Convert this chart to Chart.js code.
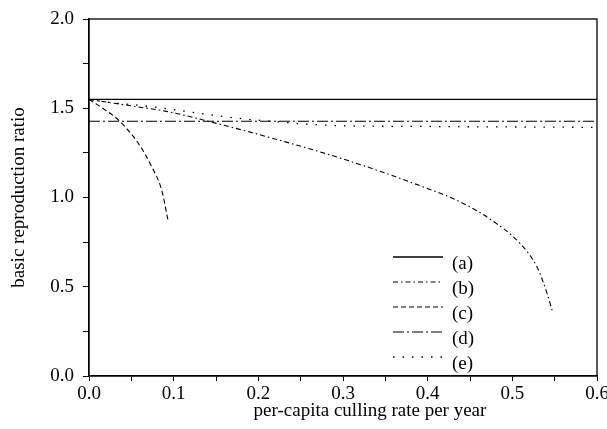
<!DOCTYPE html>
<html>
<head>
<meta charset="utf-8">
<script src="https://cdn.jsdelivr.net/npm/chart.js@4/dist/chart.umd.min.js"></script>
<style>
  html, body { margin: 0; padding: 0; background: #fff; }
  #c { display: block; }
</style>
</head>
<body>
<canvas id="c" width="607" height="429"></canvas>
<script>
// ---- data ----
const seriesLabels = ['(a)', '(b)', '(c)', '(d)', '(e)'];

const xA = [0, 0.6];
const yA = [1.55, 1.55];

const xB = [0, 0.03, 0.06, 0.09, 0.141, 0.231, 0.304, 0.383, 0.442, 0.481, 0.509, 0.529, 0.541, 0.548];
const yB = [1.55, 1.528, 1.506, 1.484, 1.427, 1.313, 1.21, 1.08, 0.967, 0.855, 0.743, 0.612, 0.463, 0.351];

const xC = [0, 0.017, 0.0346, 0.0582, 0.074, 0.0858, 0.0937];
const yC = [1.55, 1.497, 1.435, 1.304, 1.173, 1.042, 0.864];

const xD = [0, 0.6];
const yD = [1.427, 1.427];

const xE = [0, 0.02, 0.062, 0.109, 0.153, 0.184, 0.216, 0.26, 0.3, 0.4, 0.5, 0.6];
const yE = [1.55, 1.535, 1.515, 1.486, 1.457, 1.44, 1.427, 1.41, 1.402, 1.398, 1.395, 1.393];

const xTickLabels = ['0.0', '0.1', '0.2', '0.3', '0.4', '0.5', '0.6'];
const yTickLabels = ['0.0', '0.5', '1.0', '1.5', '2.0'];

const xTitle = 'per-capita culling rate per year';
const yTitle = 'basic reproduction ratio';

// ---- build ----
function pts(xs, ys) { return xs.map((x, i) => ({ x: x, y: ys[i] })); }

const FONT = 'Liberation Serif';
const dashes = [[], [5, 3, 1.5, 3], [5, 3], [11, 3, 2, 3], [1.5, 8]];
const widths = [1.4, 1.1, 1.1, 1.1, 1.3];
const seriesData = [pts(xA, yA), pts(xB, yB), pts(xC, yC), pts(xD, yD), pts(xE, yE)];

const datasets = seriesData.map((d, i) => ({
  label: seriesLabels[i],
  data: d,
  showLine: true,
  borderColor: '#000',
  backgroundColor: '#000',
  borderWidth: widths[i],
  borderDash: dashes[i],
  pointRadius: 0,
  cubicInterpolationMode: 'monotone',
  fill: false
}));

function isMultiple(v, step) {
  const r = v / step;
  return Math.abs(r - Math.round(r)) < 1e-6;
}

const framePlugin = {
  id: 'frame',
  beforeDraw(chart) {
    const ctx = chart.ctx;
    ctx.save();
    ctx.fillStyle = '#fff';
    ctx.fillRect(0, 0, chart.width, chart.height);
    ctx.restore();
  },
  afterDraw(chart) {
    const ctx = chart.ctx;
    const a = chart.chartArea;
    ctx.save();
    ctx.strokeStyle = '#000';
    ctx.lineWidth = 1.3;
    ctx.strokeRect(a.left, a.top, a.right - a.left, a.bottom - a.top);

    // axis titles
    ctx.fillStyle = '#000';
    ctx.font = '19px "' + FONT + '"';
    ctx.textAlign = 'center';
    ctx.textBaseline = 'middle';
    const xs = chart.scales.x;
    ctx.fillText(xTitle, xs.getPixelForValue(0.3) + 27, a.bottom + 35);
    ctx.translate(19, (a.top + a.bottom) / 2);
    ctx.rotate(-Math.PI / 2);
    ctx.fillText(yTitle, 0, 0);
    ctx.restore();

    // legend
    ctx.save();
    const lx0 = a.left + 304, lx1 = a.left + 354, tx = a.left + 363;
    const y0 = a.top + 238, dy = 25;
    chart.data.datasets.forEach((ds, i) => {
      const y = y0 + i * dy;
      ctx.strokeStyle = '#000';
      ctx.lineWidth = ds.borderWidth;
      ctx.setLineDash(ds.borderDash);
      ctx.beginPath();
      ctx.moveTo(lx0, y);
      ctx.lineTo(lx1, y);
      ctx.stroke();
      ctx.setLineDash([]);
      ctx.fillStyle = '#000';
      ctx.font = '19px "' + FONT + '"';
      ctx.textAlign = 'left';
      ctx.textBaseline = 'middle';
      ctx.fillText(ds.label, tx, y + 7);
    });
    ctx.restore();
  }
};

new Chart(document.getElementById('c'), {
  type: 'scatter',
  data: { datasets: datasets },
  options: {
    responsive: false,
    animation: false,
    devicePixelRatio: 1,
    layout: { padding: { left: 0, top: 19, right: 10, bottom: 0 } },
    plugins: { legend: { display: false }, tooltip: { enabled: false } },
    scales: {
      x: {
        type: 'linear',
        min: 0, max: 0.6,
        afterFit(s) { s.height = 53; s.paddingLeft = 0; s.paddingRight = 0; },
        border: { color: '#000', width: 1.3 },
        grid: { drawOnChartArea: false, drawTicks: true, tickLength: 5, tickColor: '#000', tickWidth: 1 },
        ticks: {
          stepSize: 0.05,
          autoSkip: false,
          maxRotation: 0,
          padding: 2,
          color: '#000',
          font: { family: FONT, size: 19 },
          callback(v) {
            if (!isMultiple(v, 0.1)) return '';
            const idx = Math.round(v / 0.1);
            return xTickLabels[idx];
          }
        }
      },
      y: {
        type: 'linear',
        min: 0, max: 2,
        afterFit(s) { s.width = 89; s.paddingTop = 0; s.paddingBottom = 0; },
        border: { color: '#000', width: 1.3 },
        grid: { drawOnChartArea: false, drawTicks: true, tickLength: 6, tickColor: '#000', tickWidth: 1 },
        ticks: {
          stepSize: 0.25,
          autoSkip: false,
          padding: 9,
          color: '#000',
          font: { family: FONT, size: 19 },
          callback(v) {
            if (!isMultiple(v, 0.5)) return '';
            const idx = Math.round(v / 0.5);
            return yTickLabels[idx];
          }
        }
      }
    }
  },
  plugins: [framePlugin]
});
</script>
</body>
</html>
